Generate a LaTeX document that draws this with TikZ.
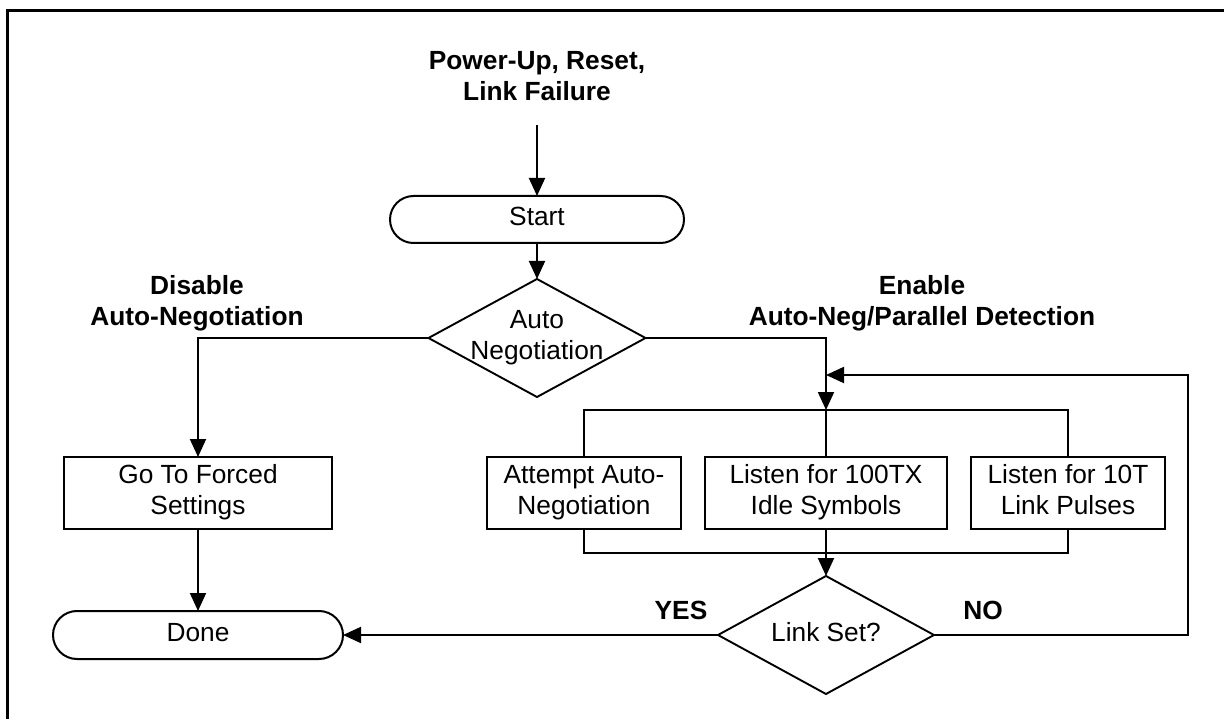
\documentclass[tikz,border=0pt]{standalone}
\usepackage{fontspec}
\setmainfont{Liberation Sans}
\usetikzlibrary{arrows.meta,shapes.geometric,shapes.misc}
\begin{document}
\begin{tikzpicture}[x=1pt,y=-1pt,
  every node/.style={font=\fontsize{26.3}{31}\selectfont, inner sep=0pt, outer sep=0pt},
  lbl/.style={align=center},
  blbl/.style={align=center, font=\fontsize{26.3}{30.5}\selectfont\bfseries},
  term/.style={draw, rounded rectangle, line width=2pt, align=center},
  proc/.style={draw, rectangle, line width=2pt, align=center},
  dia/.style={draw, diamond, line width=1.9pt},
  conn/.style={line width=1.9pt},
  arr/.style={line width=1.9pt, -{Triangle[length=18pt,width=16pt]}},
  frame/.style={line width=2.8pt}
]
\useasboundingbox (0,0) rectangle (1224,719);
% frame (top and left edges)
\draw[frame] (1224,10.5) -- (7.5,10.5) -- (7.5,719);

% labels
\node[blbl] (title) at (537,79) {Power-Up, Reset,\strut\\Link Failure\strut};
\node[blbl] (dis) at (197,304) {Disable\strut\\Auto-Negotiation\strut};
\node[blbl] (ena) at (922,304) {Enable\strut\\Auto-Neg/Parallel Detection\strut};
\node[blbl] (yes) at (681,613) {YES\strut};
\node[blbl] (no) at (983,613) {NO\strut};

% shapes
\node[term, minimum width=294pt, minimum height=47pt] (start) at (537,219.5) {Start\strut};
\node[dia, minimum width=217pt, minimum height=118pt,
      label={[lbl]center:Auto\strut\\Negotiation\strut}] (an) at (537,338) {};
\node[proc, minimum width=268pt, minimum height=72pt] (go) at (198,493) {Go To Forced\strut\\Settings\strut};
\node[term, minimum width=290pt, minimum height=48pt] (done) at (198,635) {Done\strut};
\node[proc, minimum width=194pt, minimum height=72pt] (b1) at (584,493) {Attempt Auto-\strut\\Negotiation\strut};
\node[proc, minimum width=242pt, minimum height=72pt] (b2) at (826,493) {Listen for 100TX\strut\\Idle Symbols\strut};
\node[proc, minimum width=194pt, minimum height=72pt] (b3) at (1068,493) {Listen for 10T\strut\\Link Pulses\strut};
\node[dia, minimum width=216pt, minimum height=118pt,
      label={[lbl]center:Link Set?\strut}] (ls) at (826,635) {};

% helper coordinates
\coordinate (t0) at (537,125);
\coordinate (bt) at (826,410);
\coordinate (bb) at (826,553);
\coordinate (fb) at (826,375);
\coordinate (cr) at (1188,375);

% connectors
\draw[arr] (t0) -- (start.north);
\draw[arr] (start.south) -- (an.north);
\draw[arr] (an.west) -| (go.north);
\draw[arr] (go.south) -- (done.north);
\draw[arr] (an.east) -| (bt);
\draw[conn] (b1.north) |- (bt) -| (b3.north);
\draw[conn] (bt) -- (b2.north);
\draw[conn] (b1.south) |- (bb) -| (b3.south);
\draw[conn] (b2.south) -- (bb);
\draw[arr] (bb) -- (ls.north);
\draw[arr] (ls.west) -- (done.east);
\draw[arr] (ls.east) -| (cr) -- (fb);
\end{tikzpicture}
\end{document}
